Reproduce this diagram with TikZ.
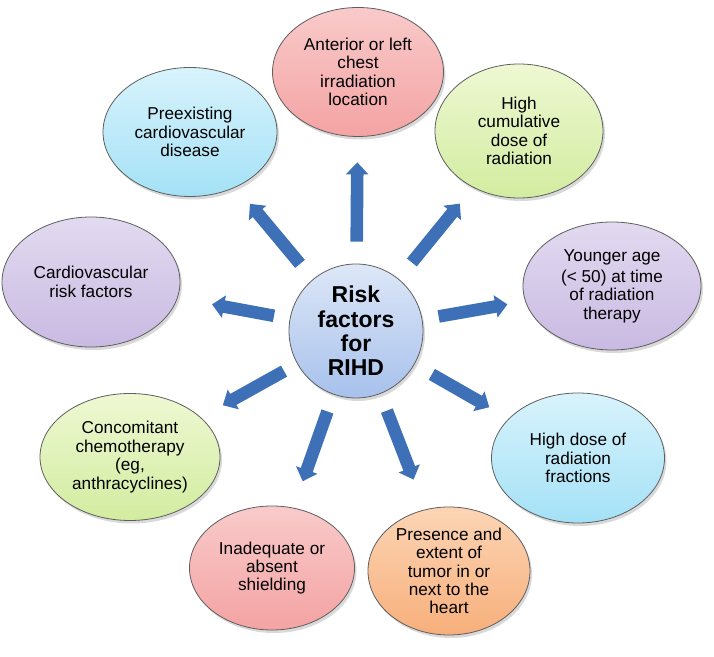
\documentclass[tikz,border=0pt]{standalone}
\usepackage{fontspec}
\setmainfont{Liberation Sans}
\usetikzlibrary{shapes.geometric, arrows.meta, shadows}

\definecolor{edgegray}{HTML}{5E5E5E}
\definecolor{arrowblue}{HTML}{3D70B6}
\definecolor{pinkT}{HTML}{F9CACA}\definecolor{pinkB}{HTML}{F4A3A3}
\definecolor{greenT}{HTML}{EEF8D2}\definecolor{greenB}{HTML}{D2ECA0}
\definecolor{purpleT}{HTML}{E2DAF0}\definecolor{purpleB}{HTML}{C9BAE2}
\definecolor{cyanT}{HTML}{D8F3FC}\definecolor{cyanB}{HTML}{A4E1F6}
\definecolor{orangeT}{HTML}{FCD5B5}\definecolor{orangeB}{HTML}{F7AF7B}
\definecolor{hubT}{HTML}{DDE7F7}\definecolor{hubB}{HTML}{A7C1EC}

\begin{document}
\begin{tikzpicture}[
  x=0.5pt, y=-0.5pt,
  bubble/.style={ellipse, draw=edgegray, line width=0.4pt, inner sep=0pt, align=center,
    font=\fontsize{8.6}{9.2}\selectfont,
    drop shadow={shadow xshift=1pt, shadow yshift=-1.5pt, opacity=0.25, fill=black!60}},
  pinkb/.style={bubble, top color=pinkT, bottom color=pinkB},
  greenb/.style={bubble, top color=greenT, bottom color=greenB},
  purpleb/.style={bubble, top color=purpleT, bottom color=purpleB},
  cyanb/.style={bubble, top color=cyanT, bottom color=cyanB},
  orangeb/.style={bubble, top color=orangeT, bottom color=orangeB},
  hub/.style={circle, draw=edgegray, line width=0.4pt, inner sep=0pt, minimum size=67pt,
    top color=hubT, bottom color=hubB, align=center,
    font=\fontsize{11.5}{12.2}\selectfont\bfseries,
    drop shadow={shadow xshift=1pt, shadow yshift=-1.5pt, opacity=0.25, fill=black!60}},
  ray/.style={line width=6.3pt, draw=arrowblue, -{Triangle[width=11pt,length=6pt]}}
]
\useasboundingbox (0,0) rectangle (714,657);

\node[hub] (hub) at (356,331) {Risk\\factors\\for\\RIHD};

\node[pinkb, minimum width=85.5pt, minimum height=64.5pt] (chest) at (358,72) {Anterior or left\\chest\\irradiation\\location};
\node[greenb, minimum width=84pt, minimum height=67pt] (cumul) at (519,131) {High\\cumulative\\dose of\\radiation};
\node[purpleb, minimum width=89pt, minimum height=64pt] (young) at (612,286) {Younger age\\[1.5pt](< 50) at time\\of radiation\\therapy};
\node[cyanb, minimum width=86.5pt, minimum height=65pt] (fract) at (578,458) {High dose of\\radiation\\fractions};
\node[orangeb, minimum width=81pt, minimum height=64pt] (tumor) at (449,571) {Presence and\\extent of\\tumor in or\\next to the\\heart};
\node[pinkb, minimum width=82.5pt, minimum height=62pt] (shield) at (272,568) {Inadequate or\\absent\\shielding};
\node[greenb, minimum width=90pt, minimum height=63.5pt] (chemo) at (130,457) {Concomitant\\chemotherapy\\(eg,\\anthracyclines)};
\node[purpleb, minimum width=89pt, minimum height=65pt] (cvrisk) at (91,282) {Cardiovascular\\risk factors};
\node[cyanb, minimum width=87pt, minimum height=64.5pt] (cvd) at (190,132) {Preexisting\\cardiovascular\\disease};

% rays from the hub
\draw[ray, shorten <=11pt, shorten >=12.75pt] (hub) -- (chest);
\draw[ray, shorten <=10.5pt, shorten >=10.4pt] (hub) -- (cumul);
\draw[ray, shorten <=8.25pt, shorten >=9pt] (hub) -- (young);
\draw[ray, shorten <=10pt, shorten >=11.25pt] (hub) -- (fract);
\draw[ray, shorten <=9pt, shorten >=16pt] (hub) -- (tumor);
\draw[ray, shorten <=9pt, shorten >=14pt] (hub) -- (shield);
\draw[ray, shorten <=7.5pt, shorten >=12.5pt] (hub) -- (chemo);
\draw[ray, shorten <=8pt, shorten >=17.5pt] (hub) -- (cvrisk);
\draw[ray, shorten <=10pt, shorten >=10.85pt] (hub) -- (cvd);
\end{tikzpicture}
\end{document}
